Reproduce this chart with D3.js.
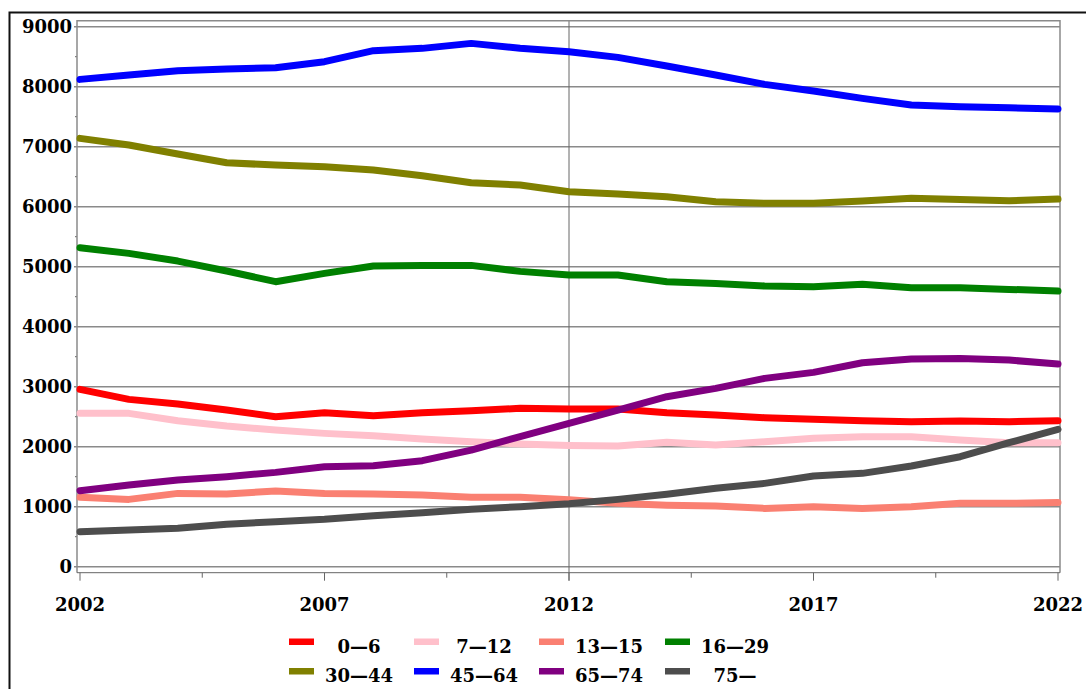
<!DOCTYPE html>
<html>
<head>
<meta charset="utf-8">
<script src="https://cdn.jsdelivr.net/npm/d3@7/dist/d3.min.js"></script>
<style>
html,body{margin:0;padding:0;background:#fff;}
svg{display:block;}
text{font-family:"DejaVu Serif",serif;font-weight:bold;font-size:18px;fill:#000;}
</style>
</head>
<body>
<svg id="chart" width="1086" height="689"></svg>
<script>
const years = d3.range(2002, 2023);
const seriesNames = ["0\u20146","7\u201412","13\u201415","16\u201429","30\u201444","45\u201464","65\u201474","75\u2014"];
const seriesColors = ["#ff0000","#ffc0cb","#fa8072","#008000","#808000","#0000ff","#800080","#4d4d4d"];
const age0_6   = [2956,2789,2711,2611,2500,2567,2517,2567,2600,2639,2630,2628,2567,2528,2483,2456,2433,2417,2428,2417,2433];
const age7_12  = [2556,2556,2433,2344,2278,2222,2183,2128,2083,2044,2020,2011,2075,2028,2083,2139,2167,2167,2111,2067,2067];
const age13_15 = [1156,1122,1222,1211,1261,1222,1211,1194,1156,1156,1115,1056,1025,1010,972,1000,972,1000,1056,1056,1072];
const age16_29 = [5317,5222,5094,4928,4750,4889,5011,5022,5022,4922,4861,4861,4750,4722,4678,4667,4706,4650,4650,4622,4594];
const age30_44 = [7139,7028,6878,6733,6694,6667,6611,6517,6400,6361,6250,6211,6167,6083,6056,6056,6094,6139,6122,6100,6128];
const age45_64 = [8122,8194,8267,8294,8317,8417,8600,8639,8722,8640,8583,8489,8344,8194,8039,7928,7806,7694,7667,7650,7628];
const age65_74 = [1267,1361,1444,1500,1572,1667,1683,1767,1944,2167,2390,2611,2833,2972,3139,3239,3400,3461,3472,3444,3378];
const age75    = [583,611,639,706,750,789,850,900,956,1000,1050,1122,1206,1306,1389,1511,1556,1678,1833,2067,2289];
const seriesValues = [age0_6, age7_12, age13_15, age16_29, age30_44, age45_64, age65_74, age75];
const yTicks = [0,1000,2000,3000,4000,5000,6000,7000,8000,9000];
const xTickLabels = [2002,2007,2012,2017,2022];

const svg = d3.select("#chart");
const x = d3.scaleLinear().domain([2002, 2022]).range([80, 1058]);
const y = d3.scaleLinear().domain([0, 9000]).range([566.7, 26.7]);
const boxL = 77, boxR = 1060, boxT = 20.7, axisY = 572.7;

// outer frame (left + top)
svg.append("path").attr("d", `M9.5,689 L9.5,12.5 L1086,12.5`)
  .attr("fill","none").attr("stroke","#111").attr("stroke-width",2);

// gridlines
svg.append("g").selectAll("line").data(yTicks).join("line")
  .attr("x1", 74).attr("x2", boxR)
  .attr("y1", d => y(d)).attr("y2", d => y(d))
  .attr("stroke", "#8a8a8a").attr("stroke-width", 1.5);
// minor y ticks
svg.append("g").selectAll("line").data(d3.range(500, 9000, 1000)).join("line")
  .attr("x1", 75).attr("x2", boxL)
  .attr("y1", d => y(d)).attr("y2", d => y(d))
  .attr("stroke", "#666").attr("stroke-width", 1);

// vertical gridline at 2012
svg.append("line").attr("x1", x(2012)).attr("x2", x(2012)).attr("y1", boxT).attr("y2", axisY + 8)
  .attr("stroke", "#666").attr("stroke-width", 1);

// plot box
svg.append("path").attr("d", `M${boxL},${axisY} L${boxL},${boxT} L${boxR},${boxT} L${boxR},${axisY}`)
  .attr("fill","none").attr("stroke","#8a8a8a").attr("stroke-width",1.5);
// x axis line
svg.append("line").attr("x1", boxL).attr("x2", boxR).attr("y1", axisY).attr("y2", axisY)
  .attr("stroke","#666").attr("stroke-width",1);
// x ticks
svg.append("g").selectAll("line").data(d3.range(2002, 2022.1, 2.5)).join("line")
  .attr("x1", d => x(d)).attr("x2", d => x(d))
  .attr("y1", axisY).attr("y2", d => (d % 5 === 2 ? axisY + 8 : axisY + 5))
  .attr("stroke","#666").attr("stroke-width",1);

// y labels
svg.append("g").selectAll("text").data(yTicks).join("text")
  .attr("x", 72).attr("y", d => y(d)).attr("dy", "0.36em")
  .attr("text-anchor", "end").text(d => d);
// x labels
svg.append("g").selectAll("text").data(xTickLabels).join("text")
  .attr("x", d => x(d)).attr("y", 611)
  .attr("text-anchor", "middle").text(d => d);

// lines
const line = d3.line().x((d, i) => x(years[i])).y(d => y(d));
svg.append("g").selectAll("path").data(seriesValues).join("path")
  .attr("d", d => line(d))
  .attr("fill", "none")
  .attr("stroke", (d, i) => seriesColors[i])
  .attr("stroke-width", 7)
  .attr("stroke-linejoin", "round")
  .attr("stroke-linecap", "round");

// legend
const legCenters = [359, 484, 609, 735];
const legRows = [653, 682];
const legSwatchY = [638.5, 668];
const leg = svg.append("g").selectAll("g").data(seriesNames).join("g");
leg.append("rect")
  .attr("x", (d, i) => legCenters[i % 4] - 70)
  .attr("y", (d, i) => legSwatchY[Math.floor(i / 4)])
  .attr("width", 25).attr("height", 6.5)
  .attr("fill", (d, i) => seriesColors[i]);
leg.append("text")
  .attr("x", (d, i) => legCenters[i % 4])
  .attr("y", (d, i) => legRows[Math.floor(i / 4)])
  .attr("text-anchor", "middle")
  .text(d => d);
</script>
</body>
</html>
